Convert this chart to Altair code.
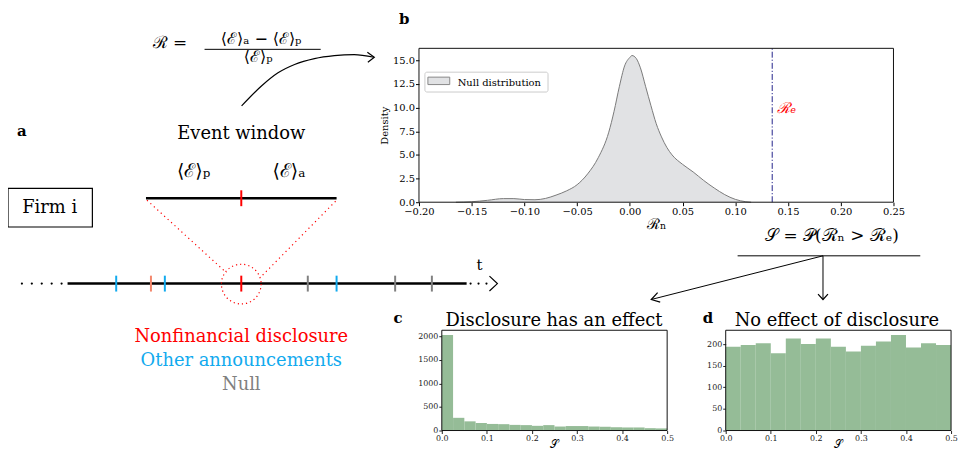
import altair as alt
import pandas as pd
import numpy as np

SERIF = "DejaVu Serif"
RED = "#ff0000"
BLUE = "#12aaee"
GRAY = "#808080"
SALMON = "#f4876c"
GREEN = "#95bc97"
BLACK = "#000000"

# ---------------- panel b: null distribution (KDE) ----------------
kde_x = [-0.165, -0.15, -0.135, -0.12, -0.11, -0.10, -0.09, -0.08, -0.07, -0.06, -0.05,
         -0.04, -0.03, -0.02, -0.015, -0.01, -0.005, 0.0, 0.002, 0.006, 0.01, 0.015,
         0.02, 0.025, 0.03, 0.035, 0.04, 0.05, 0.06, 0.07, 0.08, 0.09, 0.10, 0.11, 0.115]
kde_density = [0.0, 0.05, 0.2, 0.38, 0.38, 0.28, 0.26, 0.4, 0.75, 1.2, 1.85,
               3.0, 4.7, 7.4, 9.6, 12.2, 14.4, 15.3, 15.5, 15.2, 14.2, 12.2,
               10.2, 8.3, 6.9, 5.8, 5.0, 4.0, 3.2, 2.3, 1.5, 0.8, 0.3, 0.05, 0.0]
R_e = 0.135
b_xticks = [-0.2, -0.15, -0.1, -0.05, 0.0, 0.05, 0.1, 0.15, 0.2, 0.25]
b_yticks = [0.0, 2.5, 5.0, 7.5, 10.0, 12.5, 15.0]
B_XDOM = [-0.2, 0.25]
B_YMAX = 16.26

# ---------------- panels c and d: histograms of S ----------------
c_counts = [2030, 270, 195, 160, 140, 135, 120, 115, 100, 115,
            85, 95, 95, 85, 80, 70, 65, 65, 50, 45]
d_counts = [194, 198, 202, 179, 213, 200, 213, 194, 183, 196, 206, 221, 192, 202, 198]
c_edges = np.linspace(0, 0.5, len(c_counts) + 1)
d_edges = np.linspace(0, 0.5, len(d_counts) + 1)
c_yticks = [0, 500, 1000, 1500, 2000]
d_yticks = [0, 50, 100, 150, 200]
s_xticks = [0.0, 0.1, 0.2, 0.3, 0.4, 0.5]
C_YMAX = 2131
D_YMAX = 232

# ---------------- figure geometry (page pixels) ----------------
W, H = 957, 445          # single view covering the whole figure
OX, OY = 8, 8            # page margin
B_BOX = (422, 47, 900, 202)     # left, top, right, bottom
C_BOX = (445, 331, 672, 432)
D_BOX = (731, 331, 958, 432)

# ---------------- schematic (page pixel coordinates) ----------------
tick_x = [117, 152, 166, 243, 310, 339, 398, 435]
tick_colors = [BLUE, SALMON, BLUE, RED, GRAY, BLUE, GRAY, GRAY]
dots_left = [22, 32, 42, 52, 62]
dots_right = [474, 482, 490]
TL_Y = 284

thick_lines = [(147, 198, 339, 198), (68, TL_Y, 470, TL_Y)]
thin_lines = [(206, 48, 323, 48),            # fraction bar
              (743, 256, 927, 256),          # S underline
              (829, 256, 829, 300),          # to d
              (829, 256, 656, 300)]          # to c
dotted_lines = [(148, 200, 228, 273), (338, 201, 263, 277)]
curve_pts = [(243.3, 105), (263.3, 85), (280, 71.7), (296.7, 63.3), (316.7, 57.3),
             (336.7, 54.3), (356.7, 53.3), (376.7, 56)]
heads = [[(370, 51), (377, 56), (370.5, 61)],
         [(824, 294.5), (829, 300), (834, 294.5)],
         [(662.4, 293.1), (656, 300), (665, 302.7)],
         [(493, 276.5), (501, 284), (493, 291.5)]]

texts_normal = [
    ("Event window", 243, 138, 18, BLACK),
    ("Firm i", 50, 213, 18, BLACK),
    ("⟨ℰ⟩ₚ", 195, 177, 19, BLACK),
    ("⟨ℰ⟩ₐ", 291, 177, 19, BLACK),
    ("ℛ =", 171, 47, 17, BLACK),
    ("⟨ℰ⟩ₐ − ⟨ℰ⟩ₚ", 263, 43, 16, BLACK),
    ("⟨ℰ⟩ₚ", 260, 61, 16, BLACK),
    ("𝒮 = 𝒫(ℛₙ > ℛₑ)", 838, 241, 17, BLACK),
    ("t", 483, 270, 15, BLACK),
    ("Nonfinancial disclosure", 243, 343, 18, RED),
    ("Other announcements", 243, 367, 18, BLUE),
    ("Null", 243, 391, 18, GRAY),
    ("Disclosure has an effect", 558, 327, 18, BLACK),
    ("No effect of disclosure", 843, 327, 18, BLACK),
]
texts_bold = [("a", 22, 135, 15, BLACK), ("b", 407, 22, 15, BLACK),
              ("c", 401, 324, 15, BLACK), ("d", 713, 324, 15, BLACK)]
legend_frame = [(428, 71, 552, 91)]
legend_patch = [(431, 76, 453, 83.5)]
legend_label = [("Null distribution", 461, 85, 10, BLACK)]
firm_box = [(8, 188, 93, 227)]


def to_view(df):
    df = df.copy()
    for c in df.columns:
        if c in ("x", "x2"):
            df[c] = df[c] - OX
        if c in ("y", "y2"):
            df[c] = df[c] - OY
    return df


PX = dict(x=alt.X("x:Q", scale=None, axis=None), y=alt.Y("y:Q", scale=None, axis=None))


def text_layer(rows, weight="normal", align="center"):
    df = to_view(pd.DataFrame(rows, columns=["t", "x", "y", "size", "color"]))
    return alt.Chart(df).mark_text(font=SERIF, fontWeight=weight, align=align,
                                   baseline="alphabetic").encode(
        **PX, text="t:N",
        size=alt.Size("size:Q", scale=None, legend=None),
        color=alt.Color("color:N", scale=None, legend=None))


def seg_layer(rows, **kw):
    df = to_view(pd.DataFrame(rows, columns=["x", "y", "x2", "y2"]))
    return alt.Chart(df).mark_rule(**kw).encode(**PX, x2="x2:Q", y2="y2:Q")


def box_layer(rows, **kw):
    df = to_view(pd.DataFrame(rows, columns=["x", "y", "x2", "y2"]))
    return alt.Chart(df).mark_rect(**kw).encode(**PX, x2="x2:Q", y2="y2:Q")


def poly_layer(polys, **kw):
    rows = [(i, k, p[0], p[1]) for i, pl in enumerate(polys) for k, p in enumerate(pl)]
    df = to_view(pd.DataFrame(rows, columns=["id", "k", "x", "y"]))
    return alt.Chart(df).mark_line(**kw).encode(**PX, detail="id:N", order="k:Q")


def xscale(dom, box):
    return alt.Scale(domain=dom, range=[box[0] - OX, box[2] - OX], nice=False, zero=False)


def yscale(ymax, box):
    return alt.Scale(domain=[0, ymax], range=[box[3] - OY, box[1] - OY], nice=False, zero=False)


# ---------------- panel b ----------------
kde_df = pd.DataFrame({"x": kde_x, "density": kde_density})
b_ax = dict(labelFont=SERIF, labelFontSize=10, labelColor=BLACK, tickColor=BLACK,
            tickSize=3.5, labelPadding=1, domain=False, grid=False, labelFlush=False,
            labelOverlap=False, titleFont=SERIF, titleFontWeight="normal", titleColor=BLACK)
xb = alt.X("x:Q", scale=xscale(B_XDOM, B_BOX),
           axis=alt.Axis(orient="bottom", offset=(B_BOX[3] - OY) - H, values=b_xticks,
                         format=".2f", title="ℛₙ", titleFontSize=15, titlePadding=0, **b_ax))
yb = alt.Y("density:Q", scale=yscale(B_YMAX, B_BOX),
           axis=alt.Axis(orient="left", offset=-(B_BOX[0] - OX), values=b_yticks,
                         format=".1f", title="Density", titleFontSize=10, titlePadding=3,
                         **b_ax))
area = alt.Chart(kde_df).mark_area(color="#e1e2e4", interpolate="monotone").encode(xb, yb)
curve = alt.Chart(kde_df).mark_line(color="#7a7a7a", strokeWidth=1,
                                    interpolate="monotone").encode(x="x:Q", y="density:Q")
re_df = pd.DataFrame({"x": [R_e], "density": [9.45], "y0": [0.0], "y1": [B_YMAX],
                      "label": ["ℛₑ"]})
re_rule = alt.Chart(re_df).mark_rule(color="#22228b", strokeWidth=1,
                                     strokeDash=[6, 2, 1.2, 2]).encode(
    x="x:Q", y="y0:Q", y2="y1:Q")
re_text = alt.Chart(re_df).mark_text(color=RED, font=SERIF, fontSize=15, align="left",
                                     baseline="alphabetic", dx=5, fontStyle="italic").encode(
    x="x:Q", y="density:Q", text="label:N")
b_frame_df = pd.DataFrame({"x": [B_XDOM[0]], "x1": [B_XDOM[1]], "y0": [0.0], "y1": [B_YMAX]})
b_frame = alt.Chart(b_frame_df).mark_rect(fillOpacity=0, stroke="#111", strokeWidth=1).encode(
    x="x:Q", x2="x1:Q", y="y0:Q", y2="y1:Q")
panel_b = alt.layer(area, curve, re_rule, re_text, b_frame)


# ---------------- panels c and d ----------------
def hist_panel(counts, edges, ymax, yticks, box):
    df = pd.DataFrame({"start": edges[:-1], "end": edges[1:], "count": counts})
    ax = dict(labelFont=SERIF, labelFontSize=8, labelColor="#222", tickColor="#222",
              tickSize=3, domain=False, grid=False, labelFlush=False, labelOverlap=False)
    bars = alt.Chart(df).mark_rect(color=GREEN).encode(
        x=alt.X("start:Q", scale=xscale([0, 0.5], box),
                axis=alt.Axis(orient="bottom", offset=(box[3] - OY) - H, values=s_xticks,
                              format=".1f", title="𝒮", titleFont=SERIF, titleFontSize=11,
                              titleFontWeight="normal", titleColor=BLACK, titlePadding=-4,
                              labelPadding=1, **ax)),
        x2="end:Q",
        y=alt.Y("count:Q", scale=yscale(ymax, box),
                axis=alt.Axis(orient="left", offset=-(box[0] - OX), values=yticks,
                              format="d", title=None, labelPadding=1, **ax)),
        y2=alt.datum(0),
    )
    fr = pd.DataFrame({"start": [0.0], "end": [0.5], "count": [0.0], "top": [ymax]})
    frame = alt.Chart(fr).mark_rect(fillOpacity=0, stroke="#111", strokeWidth=1).encode(
        x="start:Q", x2="end:Q", y="count:Q", y2="top:Q")
    return alt.layer(bars, frame)


panel_c = hist_panel(c_counts, c_edges, C_YMAX, c_yticks, C_BOX)
panel_d = hist_panel(d_counts, d_edges, D_YMAX, d_yticks, D_BOX)

# ---------------- schematic layers ----------------
ticks_df = to_view(pd.DataFrame({"x": tick_x, "y": [TL_Y - 8] * len(tick_x),
                                 "y2": [TL_Y + 8] * len(tick_x), "color": tick_colors}))
ticks = alt.Chart(ticks_df).mark_rule(strokeWidth=2).encode(
    **PX, y2="y2:Q", color=alt.Color("color:N", scale=None, legend=None))

dots_df = to_view(pd.DataFrame({"x": dots_left + dots_right,
                                "y": [TL_Y] * (len(dots_left) + len(dots_right))}))
dots = alt.Chart(dots_df).mark_circle(color=BLACK, size=5, opacity=1).encode(**PX)

ell_df = to_view(pd.DataFrame({"x": [243], "y": [284.5]}))
ellipse = alt.Chart(ell_df).mark_point(shape="circle", size=1600, filled=False, color=RED,
                                       strokeWidth=1.2, strokeDash=[1.2, 3],
                                       opacity=1).encode(**PX)

schematic = [
    box_layer(legend_frame, fill="white", stroke="#cccccc", strokeWidth=1, cornerRadius=2),
    box_layer(legend_patch, fill="#e1e2e4", stroke="#888888", strokeWidth=1),
    text_layer(legend_label, align="left"),
    seg_layer(thick_lines, color=BLACK, strokeWidth=2.5),
    seg_layer(thin_lines, color=BLACK, strokeWidth=1),
    seg_layer(dotted_lines, color=RED, strokeWidth=1.2, strokeDash=[1.2, 3.5]),
    ticks,
    seg_layer([(243, 190, 243, 206)], color=RED, strokeWidth=2),
    dots, ellipse,
    box_layer(firm_box, fillOpacity=0, stroke=BLACK, strokeWidth=1.2),
    poly_layer([curve_pts], color=BLACK, strokeWidth=1.2, interpolate="monotone"),
    poly_layer(heads, color=BLACK, strokeWidth=1.2),
    text_layer(texts_normal),
    text_layer(texts_bold, weight="bold"),
]

chart = alt.layer(panel_b, panel_c, panel_d, *schematic).resolve_scale(
    x="independent", y="independent"
).resolve_axis(
    x="independent", y="independent"
).properties(
    width=W, height=H, padding=0, background="white",
    autosize=alt.AutoSizeParams(type="none"),
).configure_view(stroke=None)

chart.save("out.html", embed_options={"renderer": "svg", "actions": False})
